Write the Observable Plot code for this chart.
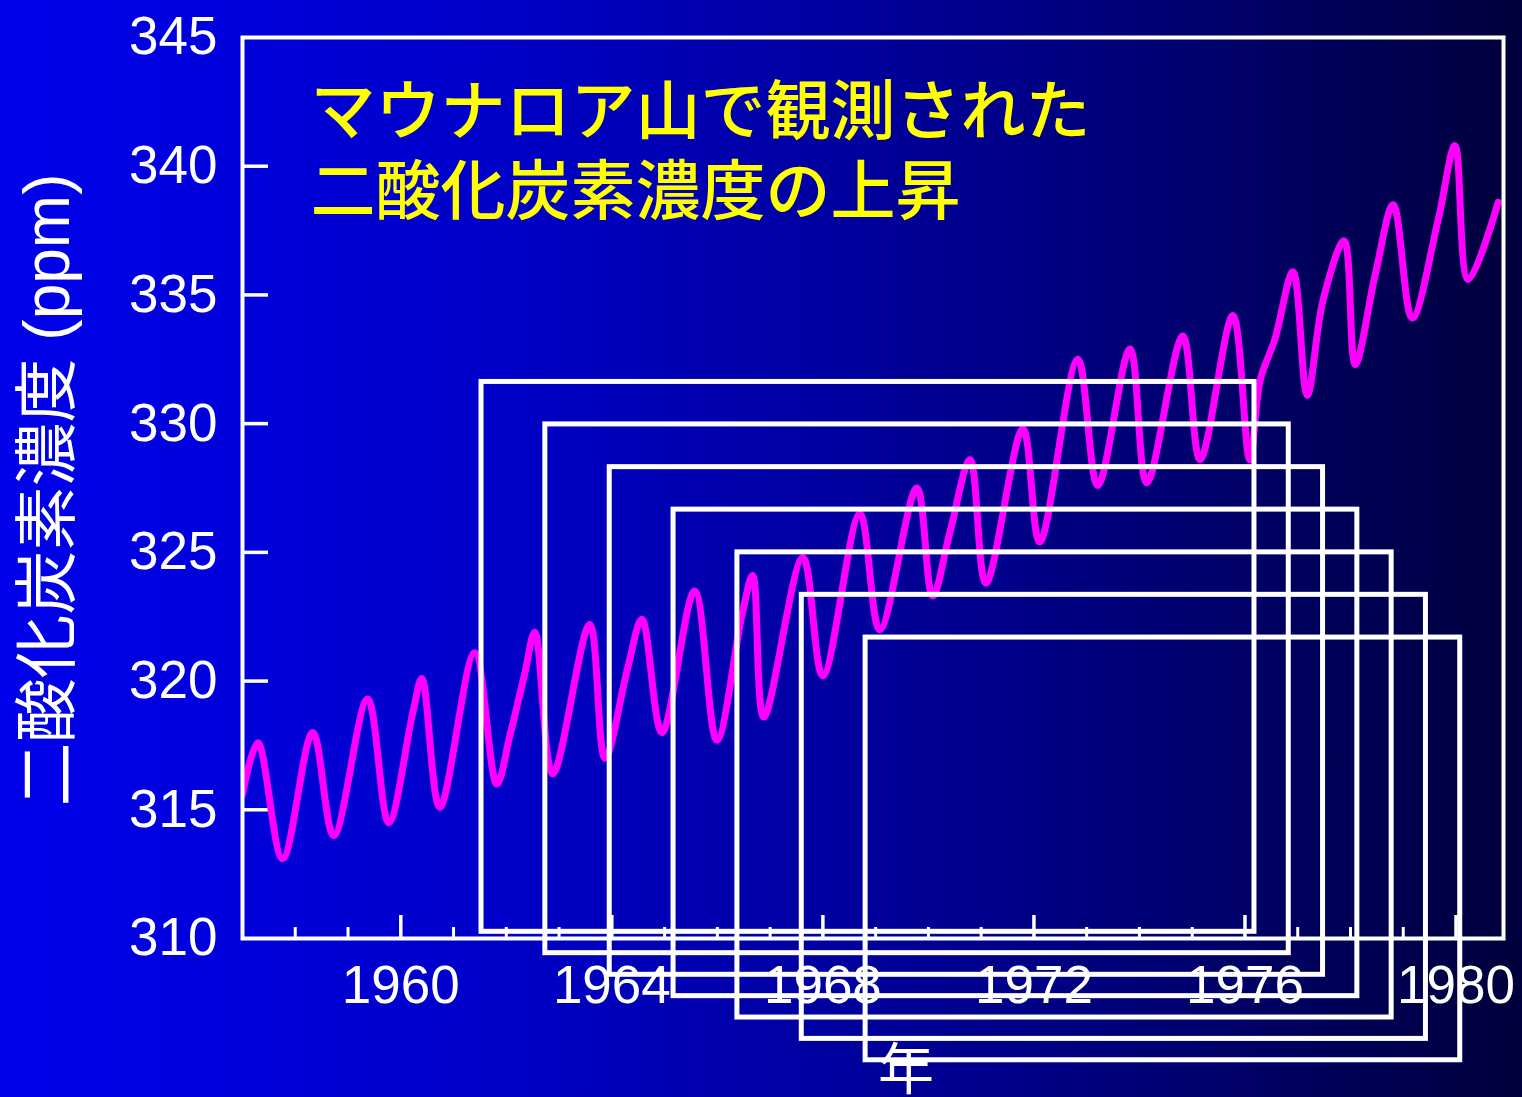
<!DOCTYPE html>
<html>
<head>
<meta charset="utf-8">
<script src="https://cdn.jsdelivr.net/npm/d3@7"></script>
<script src="https://cdn.jsdelivr.net/npm/@observablehq/plot@0.6"></script>
<style>
  html, body { margin: 0; padding: 0; background: #000066; }
  #chart { width: 1522px; height: 1097px; overflow: hidden; }
</style>
</head>
<body>
<div id="chart"></div>
<script>
// ---- data ----
const years = [
  1957.00, 1957.29, 1957.76, 1958.33, 1958.73, 1959.37, 1959.77, 1960.23, 1960.40, 1960.74,
  1961.40, 1961.82, 1962.07, 1962.35, 1962.54, 1962.88, 1963.58, 1963.87, 1964.30, 1964.57,
  1964.95, 1965.57, 1965.99, 1966.47, 1966.67, 1966.88, 1967.62, 1968.00, 1968.70, 1969.08,
  1969.78, 1970.08, 1970.41, 1970.79, 1971.09, 1971.79, 1972.11, 1972.83, 1973.21, 1973.82,
  1974.14, 1974.82, 1975.15, 1975.77, 1976.09, 1976.29, 1976.57, 1976.91, 1977.18, 1977.48,
  1977.88, 1978.09, 1978.47, 1978.81, 1979.17, 1979.66, 1979.98, 1980.23, 1980.80
];
const ppm = [
  315.6, 317.6, 313.1, 318.0, 314.0, 319.3, 314.5, 318.8, 320.1, 315.1,
  321.1, 316.0, 317.9, 320.3, 321.9, 316.4, 322.2, 317.0, 320.5, 322.4,
  318.0, 323.5, 317.7, 322.6, 324.1, 318.6, 324.8, 320.2, 326.5, 322.0,
  327.5, 323.3, 325.8, 328.6, 323.8, 329.8, 325.4, 332.5, 327.6, 332.9,
  327.7, 333.4, 328.6, 334.2, 328.6, 331.7, 333.3, 335.9, 331.1, 334.8,
  337.1, 332.3, 335.8, 338.5, 334.1, 337.9, 340.8, 335.6, 338.6
];

// overlaid white outline rectangles (in data units)
const rectX1 = [1961.53, 1962.74, 1963.96, 1965.17, 1966.38, 1967.60, 1968.81];
const rectX2 = [1976.18, 1976.83, 1977.48, 1978.13, 1978.78, 1979.43, 1980.08];
const rectY1 = [310.26, 309.43, 308.59, 307.76, 306.93, 306.10, 305.27];
const rectY2 = [331.62, 329.97, 328.31, 326.66, 325.00, 323.35, 321.69];

const yTicks = [310, 315, 320, 325, 330, 335, 340, 345];
const yInnerTicks = [315, 320, 325, 330, 335, 340];
const xMajor = [1960, 1964, 1968, 1972, 1976, 1980];
const xMinor = [1958, 1959, 1961, 1962, 1963, 1965, 1966, 1967, 1969, 1970, 1971, 1973, 1974, 1975, 1977, 1978, 1979];

const titleLine1 = "マウナロア山で観測された";
const titleLine2 = "二酸化炭素濃度の上昇";
const yLabel = "二酸化炭素濃度 (ppm)";
const xLabel = "年";

// ---- build ----
const series = years.map((x, i) => ({x, y: ppm[i]}));
const rects = rectX1.map((x1, i) => ({x1, x2: rectX2[i], y1: rectY1[i], y2: rectY2[i]}));

const W = 1522, H = 1097;
const mL = 242, mR = 19, mT = 37, mB = 159;
const plotW = W - mL - mR, plotH = H - mT - mB;
const font = "'Liberation Sans', 'Noto Sans CJK JP', sans-serif";
const cjk = "'Noto Sans CJK JP', sans-serif";

const chart = Plot.plot({
  width: W, height: H,
  marginLeft: mL, marginRight: mR, marginTop: mT, marginBottom: mB,
  style: {
    background: "linear-gradient(to right, rgb(0,0,235) 0%, rgb(0,0,218) 16%, rgb(0,0,200) 33%, rgb(0,0,138) 66%, rgb(0,0,95) 85%, rgb(0,0,60) 100%)",
    fontFamily: font, color: "white", overflow: "visible"
  },
  x: {domain: [1957, 1980.9]},
  y: {domain: [310, 345]},
  marks: [
    Plot.axisY(yTicks, {tickSize: 0, tickPadding: 25, fontSize: 53, fill: "white", label: null, fontFamily: font}),
    Plot.axisX(xMajor, {tickSize: 0, tickPadding: 27, fontSize: 53, fill: "white", label: null, tickFormat: d => String(d), fontFamily: font}),
    Plot.tickY(yInnerTicks, {y: d => d, stroke: "white", strokeWidth: 3.5, insetRight: plotW - 26}),
    Plot.tickX(xMajor, {x: d => d, stroke: "white", strokeWidth: 3.5, insetTop: plotH - 23}),
    Plot.tickX(xMinor, {x: d => d, stroke: "white", strokeWidth: 3, insetTop: plotH - 11}),
    Plot.line(series, {x: "x", y: "y", stroke: "#ff00ff", strokeWidth: 7, curve: "catmull-rom", clip: true}),
    Plot.frame({stroke: "white", strokeWidth: 4}),
    Plot.rect(rects, {x1: "x1", x2: "x2", y1: "y1", y2: "y2", fill: "none", stroke: "white", strokeWidth: 5}),
    Plot.text([titleLine1], {frameAnchor: "top-left", dx: 68, dy: 76, textAnchor: "start", lineAnchor: "middle", fill: "#ffff00", fontSize: 65, fontWeight: 500, fontFamily: cjk}),
    Plot.text([titleLine2], {frameAnchor: "top-left", dx: 68, dy: 156, textAnchor: "start", lineAnchor: "middle", fill: "#ffff00", fontSize: 65, fontWeight: 500, fontFamily: cjk}),
    Plot.text([yLabel], {frameAnchor: "left", textAnchor: "middle", rotate: -90, dx: -194, dy: 2, fill: "white", fontSize: 64, fontFamily: font}),
    Plot.text([xLabel], {frameAnchor: "bottom", textAnchor: "middle", dx: 33, dy: 150, fill: "white", fontSize: 56, fontFamily: cjk})
  ]
});
document.getElementById("chart").appendChild(chart);
</script>
</body>
</html>
